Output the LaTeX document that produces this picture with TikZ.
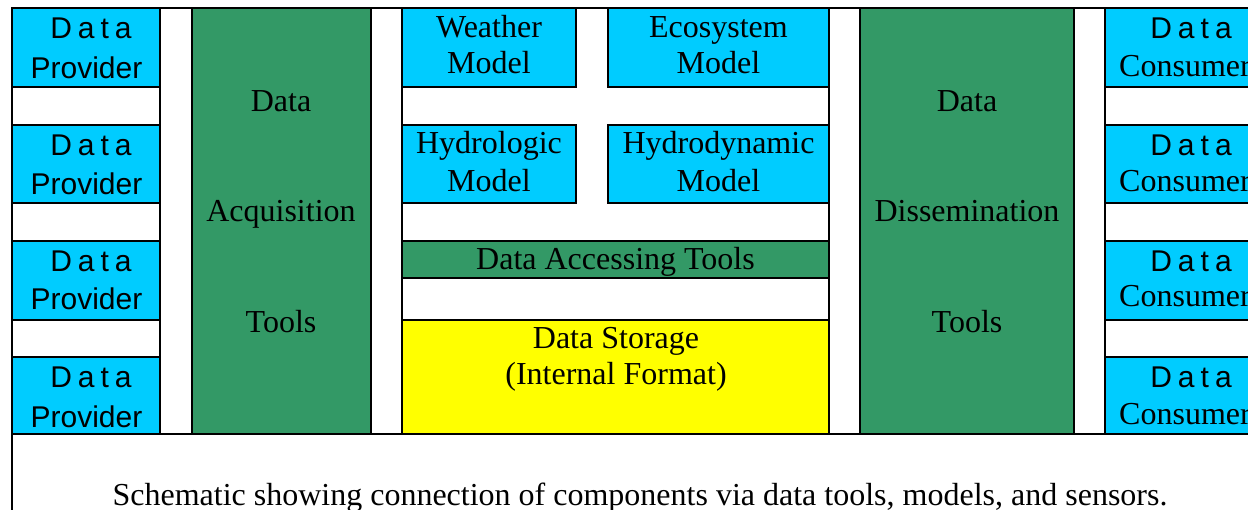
\documentclass[tikz,border=0pt]{standalone}
\usepackage{fontspec}
\setmainfont{Liberation Serif}
\setsansfont{Liberation Sans}

\definecolor{cyanbox}{RGB}{0,204,255}
\definecolor{greenbox}{RGB}{51,153,102}
\definecolor{yellowbox}{RGB}{255,255,0}

% letter-spaced sans "Data"
\newcommand{\spacedData}{D\kern6pt a\kern6pt t\kern6pt a}

\tikzset{
  edge/.style={draw=black, line width=1.8pt},
  cell/.style={edge, rectangle, anchor=north west, inner sep=0pt, outer sep=0pt},
  cyancell/.style={cell, fill=cyanbox},
  greencell/.style={cell, fill=greenbox},
  yellowcell/.style={cell, fill=yellowbox},
  whitecell/.style={cell, fill=white},
  serif/.style={anchor=base, inner sep=0pt, font=\fontsize{32}{36}\selectfont},
  sans/.style={anchor=base, inner sep=0pt, font=\sffamily\fontsize{30}{34}\selectfont},
}

\begin{document}
\begin{tikzpicture}[x=1pt, y=-1pt]
\useasboundingbox (0,0) rectangle (1248,510);
\clip (0,0) rectangle (1248,510);

% outer frame and the line closing the diagram above the caption
\draw[edge] (12,8) rectangle (1270,530);
\draw[edge] (12,434) -- (1270,434);

% column frames
\node[whitecell, minimum width=148pt, minimum height=426pt] (provcol) at (12,8) {};
\node[whitecell, minimum width=427pt, minimum height=426pt] (midcol) at (402,8) {};
\node[whitecell, minimum width=165pt, minimum height=426pt] (conscol) at (1105,8) {};

% data providers
\node[cyancell, minimum width=148pt, minimum height=79pt] (p1) at (12,8) {};
\node[cyancell, minimum width=148pt, minimum height=78pt] (p2) at (12,125) {};
\node[cyancell, minimum width=148pt, minimum height=79pt] (p3) at (12,241) {};
\node[cyancell, minimum width=148pt, minimum height=77pt] (p4) at (12,357) {};

\node[sans] (p1a) at (91,39) {\spacedData};
\node[sans] (p1b) at (86.5,79) {Provider};
\node[sans] (p2a) at (91,156) {\spacedData};
\node[sans] (p2b) at (86.5,195) {Provider};
\node[sans] (p3a) at (91,272) {\spacedData};
\node[sans] (p3b) at (86.5,310) {Provider};
\node[sans] (p4a) at (91,388) {\spacedData};
\node[sans] (p4b) at (86.5,428) {Provider};

% acquisition and dissemination tools
\node[greencell, minimum width=179pt, minimum height=426pt] (acq) at (192,8) {};
\node[serif] (acqa) at (281,112) {Data};
\node[serif] (acqb) at (281,222) {Acquisition};
\node[serif] (acqc) at (281,333) {Tools};

\node[greencell, minimum width=214pt, minimum height=426pt] (dis) at (860,8) {};
\node[serif] (disa) at (967,112) {Data};
\node[serif] (disb) at (967,222) {Dissemination};
\node[serif] (disc) at (967,333) {Tools};

% models
\node[cyancell, minimum width=174pt, minimum height=79pt] (weather) at (402,8) {};
\node[cyancell, minimum width=221pt, minimum height=79pt] (eco) at (608,8) {};
\node[cyancell, minimum width=174pt, minimum height=78pt] (hydro) at (402,125) {};
\node[cyancell, minimum width=221pt, minimum height=78pt] (hdyn) at (608,125) {};

\node[serif] (weathera) at (489,38) {Weather};
\node[serif] (weatherb) at (489,74) {Model};
\node[serif] (ecoa) at (718.5,38) {Ecosystem};
\node[serif] (ecob) at (718.5,74) {Model};
\node[serif] (hydroa) at (489,154) {Hydrologic};
\node[serif] (hydrob) at (489,192) {Model};
\node[serif] (hdyna) at (718.5,154) {Hydrodynamic};
\node[serif] (hdynb) at (718.5,192) {Model};

% accessing tools and storage
\node[greencell, minimum width=427pt, minimum height=37pt] (access) at (402,241) {};
\node[serif] (accessa) at (615.5,270) {Data Accessing Tools};
\node[yellowcell, minimum width=427pt, minimum height=114pt] (store) at (402,320) {};
\node[serif] (storea) at (616,349) {Data Storage};
\node[serif] (storeb) at (616,385) {(Internal Format)};

% data consumers
\node[cyancell, minimum width=165pt, minimum height=79pt] (c1) at (1105,8) {};
\node[cyancell, minimum width=165pt, minimum height=78pt] (c2) at (1105,125) {};
\node[cyancell, minimum width=165pt, minimum height=79pt] (c3) at (1105,241) {};
\node[cyancell, minimum width=165pt, minimum height=77pt] (c4) at (1105,357) {};

\node[sans] (c1a) at (1191,39) {\spacedData};
\node[serif, anchor=base west] (c1b) at (1119,77) {Consumer};
\node[sans] (c2a) at (1191,156) {\spacedData};
\node[serif, anchor=base west] (c2b) at (1119,192) {Consumer};
\node[sans] (c3a) at (1191,272) {\spacedData};
\node[serif, anchor=base west] (c3b) at (1119,307) {Consumer};
\node[sans] (c4a) at (1191,388) {\spacedData};
\node[serif, anchor=base west] (c4b) at (1119,425) {Consumer};

% caption
\node[serif] (caption) at (640,505) {Schematic showing connection of components via data tools, models, and sensors.};
\end{tikzpicture}
\end{document}
